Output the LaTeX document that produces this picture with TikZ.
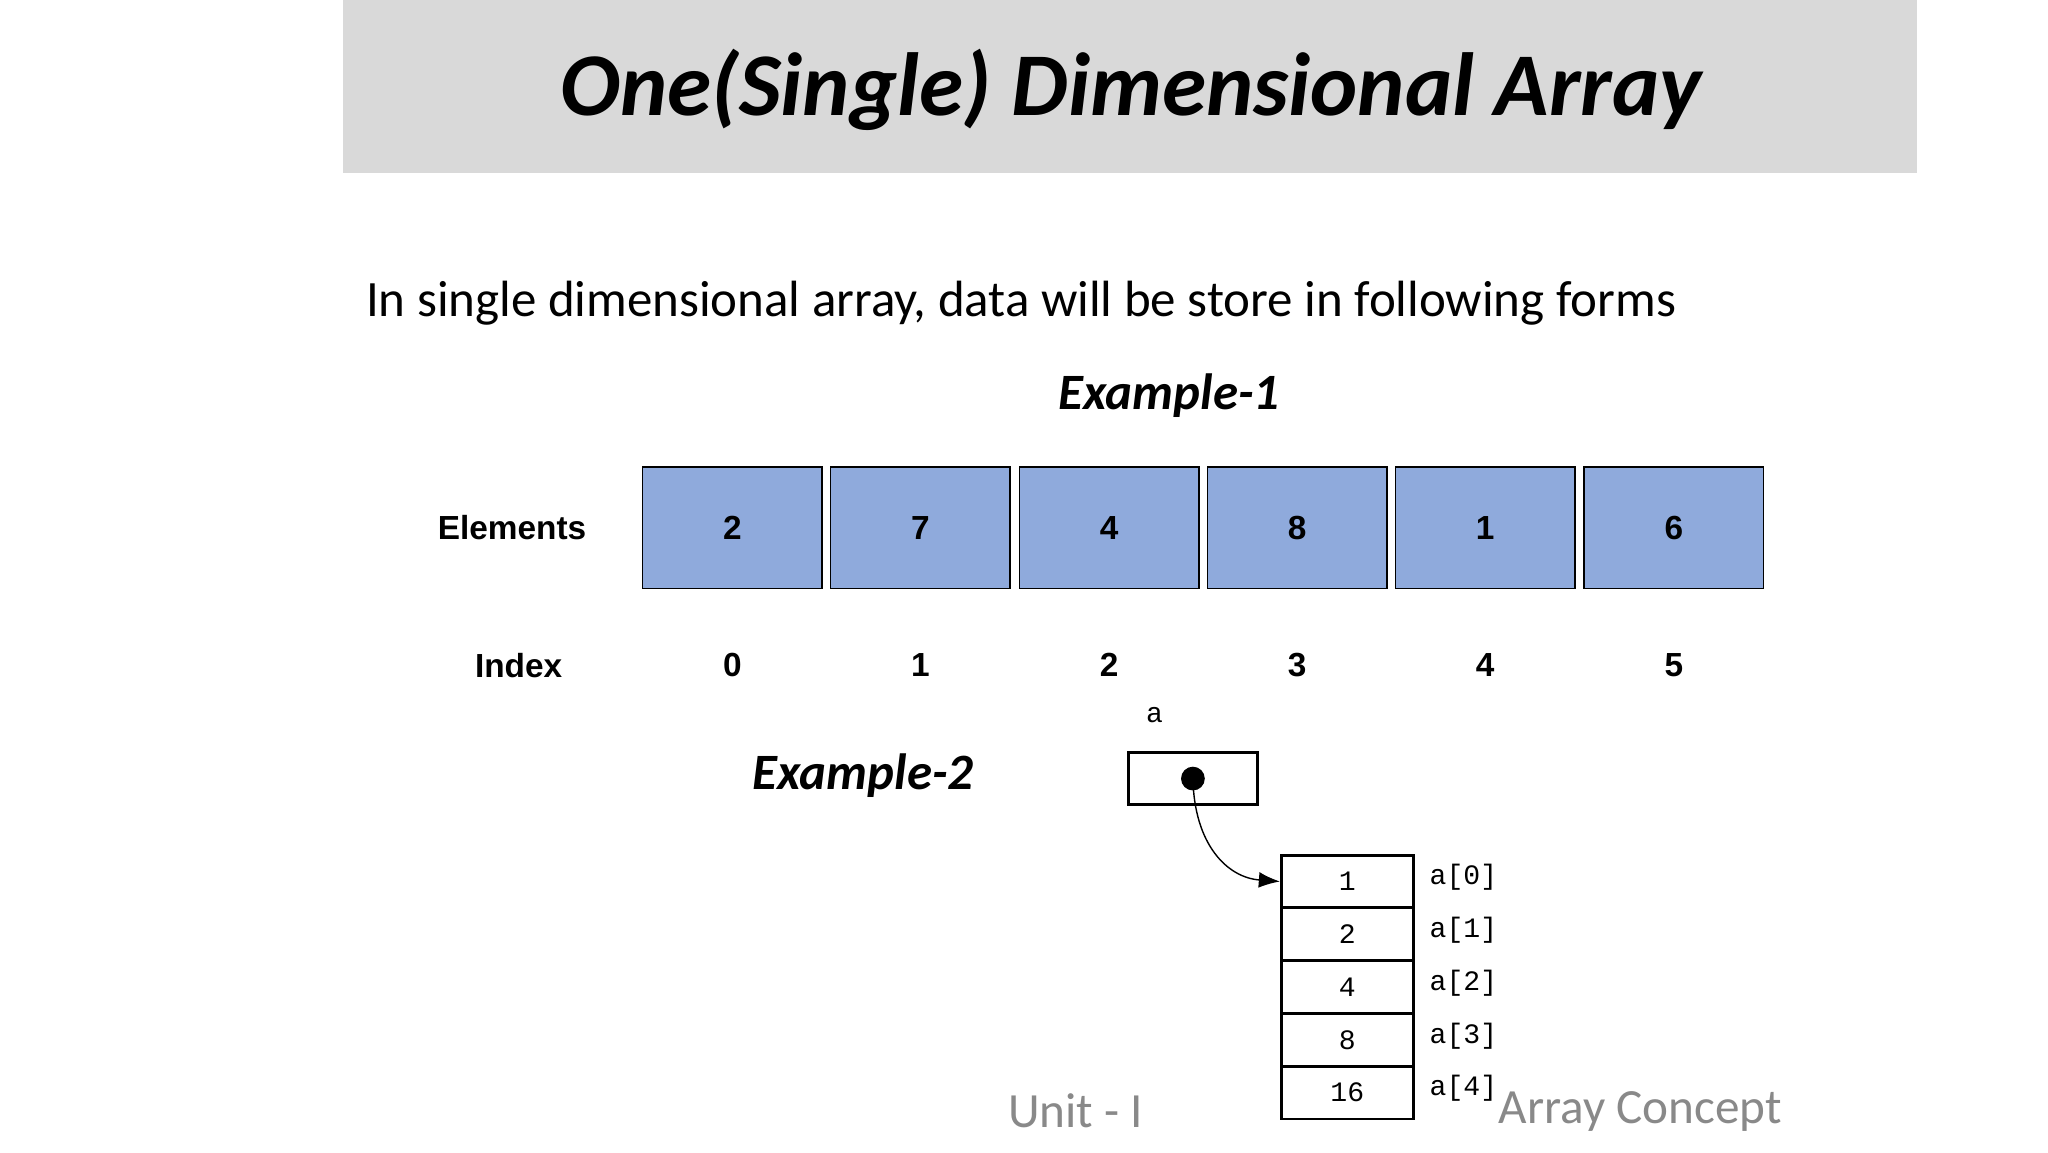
\documentclass[tikz,border=0pt]{standalone}
\usepackage{fontspec}
\setmainfont{Carlito}
\newfontfamily\arialf{Liberation Sans}
\setmonofont{Liberation Mono}
\usetikzlibrary{arrows.meta}
\definecolor{hdr}{HTML}{D9D9D9}
\definecolor{cellblue}{HTML}{8FAADC}
\definecolor{foot}{HTML}{898989}
\tikzset{
 cell/.style={draw=black, fill=cellblue, minimum width=136\pxu, minimum height=92\pxu, inner sep=0pt, font=\arialf\bfseries\fontsize{9.5}{11}\selectfont},
 lab/.style={font=\arialf\bfseries\fontsize{9.5}{11}\selectfont},
 mcell/.style={draw=black, thick, minimum width=100\pxu, minimum height=40\pxu, inner sep=0pt, font=\ttfamily\fontsize{8}{10}\selectfont},
 mlab/.style={font=\ttfamily\fontsize{8}{10}\selectfont},
}
\newcommand\pxu{*0.013196cm}
\begin{document}
\begin{tikzpicture}[x=0.013196cm,y=-0.013196cm]
\useasboundingbox (0,0) rectangle (1552,873);
\fill[white] (0,0) rectangle (1552,873);
\fill[hdr] (260,0) rectangle (1453,131);
\node (title) at (857,68) {\fontsize{25.5}{30}\selectfont\bfseries\itshape One(Single) Dimensional Array};
\node[anchor=west] (intro) at (268,230) {\fontsize{14.5}{17}\selectfont In single dimensional array, data will be store in following forms};
\node (ex1) at (886,300) {\fontsize{14.5}{17}\selectfont\bfseries\itshape Example-1};
\node[lab] (elab) at (388,400) {Elements};
\node[lab] (ilab) at (393,504) {Index};
\foreach \v/\x/\i [count=\k from 0] in {2/555/0,7/697.5/1,4/840.5/2,8/983/3,1/1125.5/4,6/1268.5/5}{
  \node[cell] (c\k) at (\x,400) {\v};
  \node[lab] (i\k) at (\x,504) {\i};
}
\node (ex2) at (654,588) {\fontsize{14.5}{17}\selectfont\bfseries\itshape Example-2};
\node[mlab] (alab) at (875,542) {a};
\node[draw=black, thick, minimum width=98\pxu, minimum height=39\pxu, inner sep=0pt] (ptr) at (904,590) {};
\fill (ptr.center) circle (9\pxu);
\foreach \v/\y [count=\k from 0] in {1/668,2/708,4/748,8/788,16/828}{
  \node[mcell] (m\k) at (1021,\y) {\v};
  \node[mlab] (ml\k) at (1109,\y-3) {a[\k]};
}
\draw[-{Latex[length=6pt]}] (ptr.center) .. controls (905,640) and (930,665) .. (m0.west);
\node[text=foot] (u) at (815,842) {\fontsize{14}{17}\selectfont Unit - I};
\node[text=foot] (ac) at (1243,842) {\fontsize{14}{17}\selectfont Array Concept};
\end{tikzpicture}
\end{document}
